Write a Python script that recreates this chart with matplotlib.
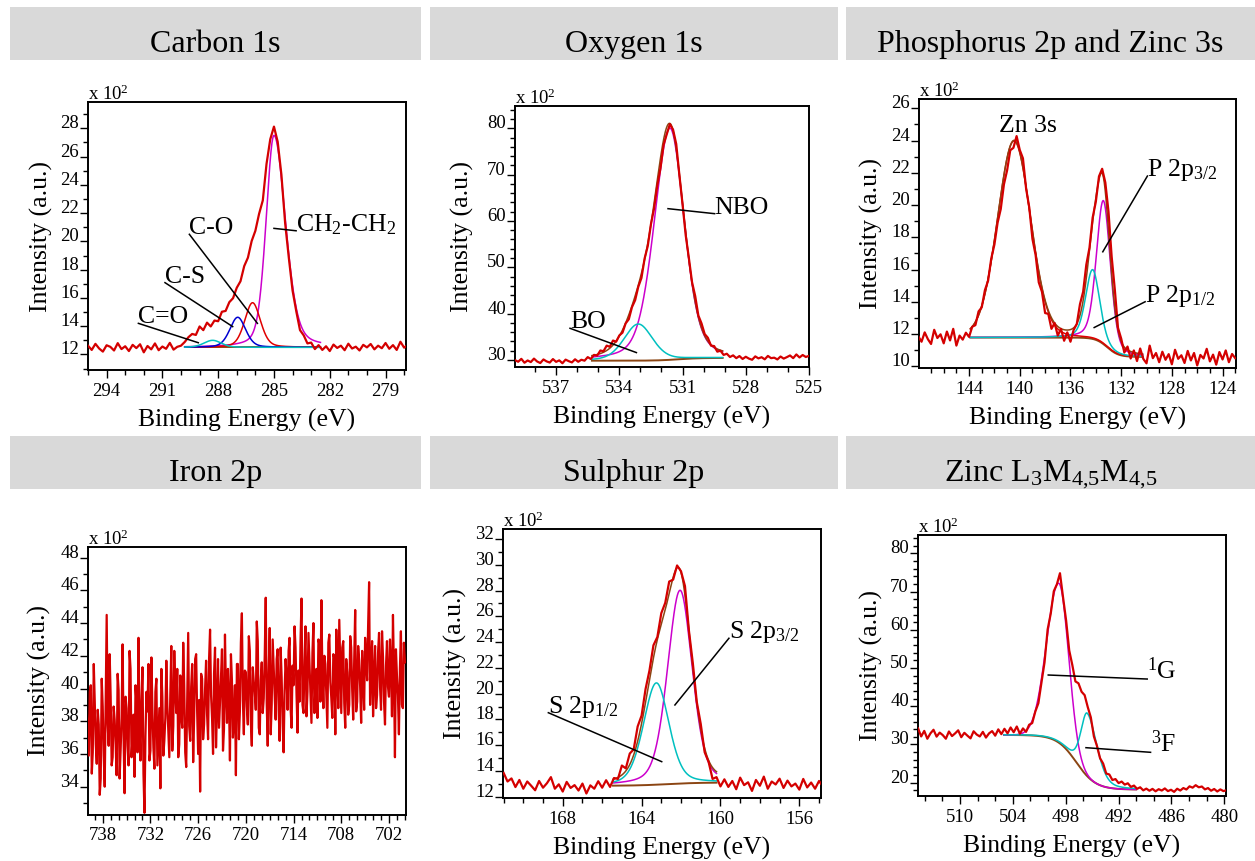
import numpy as np
import matplotlib
matplotlib.use("Agg")
import matplotlib.pyplot as plt
from matplotlib.patches import Rectangle
from matplotlib.ticker import MultipleLocator, FormatStrFormatter
from matplotlib.transforms import ScaledTranslation

plt.rcParams["font.family"] = ["Liberation Serif", "DejaVu Serif"]
plt.rcParams["mathtext.fontset"] = "custom"
plt.rcParams["mathtext.rm"] = "Liberation Serif"
plt.rcParams["mathtext.it"] = "Liberation Serif:italic"
plt.rcParams["mathtext.bf"] = "Liberation Serif:bold"

SCALE = 100.0  # intensities are shown in units of 10^2 counts

# ---------------- Carbon 1s ----------------
c1s_be = np.linspace(295.0, 277.8, 87)
c1s_counts = [
    1262, 1232, 1275, 1242, 1220, 1265, 1254, 1228, 1280, 1238,
    1258, 1224, 1268, 1245, 1272, 1215, 1260, 1236, 1278, 1230,
    1256, 1240, 1282, 1234, 1254, 1262, 1288, 1322, 1345, 1338,
    1398, 1372, 1425, 1398, 1440, 1435, 1502, 1508, 1570, 1598,
    1672, 1718, 1825, 1885, 2002, 2075, 2195, 2290, 2548, 2722,
    2812, 2705, 2472, 2130, 1882, 1652, 1505, 1372, 1335, 1278,
    1284, 1238, 1266, 1232, 1258, 1224, 1270, 1246, 1262, 1230,
    1276, 1242, 1255, 1228, 1268, 1250, 1274, 1236, 1262, 1244,
    1281, 1240, 1266, 1232, 1290, 1248, 1268]
c1s_bg = [1250, 1250, 286.0, 1.0]          # high-BE level, low-BE level, centre, slope
c1s_fit_range = [289.8, 282.5]
c1s_centers = [285.0, 286.15, 286.95, 288.3]
c1s_heights = [1500, 316, 213, 50]
c1s_fwhm_hi = [1.0, 1.0, 1.0, 1.1]
c1s_fwhm_lo = [1.45, 1.0, 1.0, 1.1]
c1s_mix = [0.3, 0.3, 0.3, 0.3]

# ---------------- Oxygen 1s ----------------
o1s_be = np.linspace(538.95, 525.0, 94)
o1s_counts = [
    2998, 2962, 3025, 2941, 2990, 2955, 3030, 2968, 2935, 3012,
    2970, 2945, 3020, 2960, 2992, 2930, 3008, 2975, 2948, 3015,
    2962, 3005, 2985, 3062, 3022, 3110, 3095, 3205, 3190, 3310,
    3285, 3420, 3395, 3530, 3590, 3790, 3880, 4140, 4290, 4580,
    4770, 5190, 5460, 5930, 6270, 6760, 7130, 7640, 7870, 8090,
    7970, 7660, 6990, 6360, 5690, 5200, 4680, 4380, 3960, 3790,
    3560, 3480, 3310, 3300, 3180, 3200, 3110, 3135, 3065, 3100,
    3040, 3085, 3022, 3070, 3030, 3005, 3078, 3035, 3060, 3015,
    3088, 3040, 3050, 3012, 3075, 3030, 3062, 3098, 3040, 3120,
    3055, 3108, 3065, 3090]
o1s_bg = [2985, 3045, 531.2, 0.5]
o1s_fit_range = [535.3, 529.1]
o1s_centers = [531.6, 533.1]
o1s_heights = [5000, 790]
o1s_fwhm_hi = [1.75, 1.6]
o1s_fwhm_lo = [1.6, 1.6]
o1s_mix = [0.3, 0.3]

# ---------------- Phosphorus 2p / Zinc 3s ----------------
p2p_be = np.linspace(148.0, 123.0, 101)
p2p_counts = [
    1185, 1152, 1210, 1168, 1138, 1226, 1175, 1198, 1142, 1215,
    1160, 1232, 1128, 1190, 1165, 1208, 1182, 1245, 1255, 1340,
    1365, 1472, 1530, 1668, 1755, 1890, 1975, 2128, 2215, 2340,
    2355, 2428, 2342, 2290, 2102, 1985, 1790, 1690, 1520, 1462,
    1330, 1325, 1232, 1268, 1190, 1232, 1158, 1210, 1152, 1225,
    1262, 1385, 1462, 1630, 1735, 1922, 2020, 2178, 2225, 2140,
    1960, 1680, 1475, 1238, 1172, 1085, 1122, 1048, 1098, 1032,
    1110, 1045, 1018, 1128, 1050, 1082, 1025, 1090, 1040, 1075,
    1012, 1102, 1046, 1068, 1020, 1095, 1036, 1082, 1005, 1070,
    1048, 1108, 1030, 1072, 1010, 1088, 1042, 1098, 1025, 1076,
    1050]
p2p_bg = [1178, 1058, 133.1, 0.45]
p2p_fit_range = [143.9, 130.3]
p2p_centers = [140.45, 133.4, 134.25]
p2p_heights = [1220, 890, 430]
p2p_fwhm_hi = [3.07, 1.3, 1.3]
p2p_fwhm_lo = [3.07, 1.3, 1.3]
p2p_mix = [0.1, 0.3, 0.3]

# ---------------- Iron 2p ----------------
# counts on the 0.25 eV grid (740.00 ... 700.00)
fe2p_counts_grid = [
    3860, 3590, 4020, 3610, 3920, 3540, 3780, 3450, 3890, 3400,
    4450, 3650, 3950, 3580, 3810, 3470, 3990, 3620, 4270, 3360,
    3880, 3530, 4120, 3700, 3460, 3910, 4310, 3560, 4130, 3240,
    3980, 4150, 3620, 3870, 3510, 4060, 3700, 3390, 3950, 3680,
    4170, 3740, 3960, 3620, 4230, 3850, 3580, 4080, 3760, 4020,
    3520, 4340, 3680, 4150, 3830, 4210, 3600, 3370, 4060, 3780,
    4170, 3690, 4360, 3820, 4090, 3640, 4180, 3910, 4240, 3750,
    3980, 4120, 3560, 4050, 3800, 3470, 4150, 3860, 4460, 3720,
    4100, 3780, 4230, 3650, 4040, 3870, 4290, 3720, 4160, 3940,
    4555, 3650, 4370, 3900, 4120, 3810, 4240, 3680, 4070, 3610,
    4180, 3870, 4310, 3760, 4020, 4250, 3730, 3920, 4550, 3850,
    4380, 3980, 4160, 3790, 4400, 4010, 3820, 4270, 4540, 3880,
    4150, 3760, 4330, 3940, 4210, 3720, 4080, 4420, 3850, 4290,
    3760, 4100, 3900, 4250, 3810, 4480, 3920, 4170, 3790, 4060,
    4310, 4050, 4650, 4120, 3830, 4260, 3960, 4340, 3870, 4190,
    3780, 4290, 3950, 4140, 4450, 3580, 4080, 3720, 4350, 3880,
    4160]
# counts at the intermediate channels (739.875 ... 700.125)
fe2p_counts_mid = [
    3720, 3980, 3480, 4150, 3660, 3870, 3350, 4060, 3590, 3940,
    3780, 4210, 3530, 3890, 3660, 4090, 3450, 3820, 3700, 3950,
    3650, 4230, 3580, 3840, 4020, 3610, 3770, 3930, 3480, 3710,
    3860, 3560, 4190, 3640, 3980, 3530, 3880, 4120, 3590, 3820,
    3900, 3580, 4260, 3770, 3990, 4120, 3660, 3840, 4280, 3610,
    3950, 3770, 4010, 3550, 4180, 3860, 3930, 4090, 3690, 4000,
    3840, 4180, 3960, 3600, 4250, 3880, 3760, 4070, 3620, 4330,
    3790, 3940, 4210, 3700, 4020, 4150, 3690, 4280, 3930, 4110,
    3890, 4320, 3800, 4130, 3980, 4410, 3760, 4050, 3850, 4200,
    3910, 4100, 3720, 4300, 3960, 4180, 3870, 4250, 3790, 3990,
    4060, 4230, 3880, 4140, 4380, 3960, 4110, 4290, 3900, 4170,
    3830, 4340, 3990, 4220, 3850, 4120, 4300, 3920, 4080, 4200,
    3950, 4280, 4040, 3820, 4190, 4360, 3880, 4130, 4250, 3910,
    4180, 3840, 4320, 3990, 4170, 3860, 4260, 4010, 4230, 3870,
    4170, 4380, 3900, 4290, 4070, 3880, 4220, 4010, 4350, 3920,
    4140, 4010, 4300, 3830, 4100, 4240, 3960, 4120, 3900, 4280]
fe2p_be = np.linspace(740.0, 700.0, 321)

# ---------------- Sulphur 2p ----------------
s2p_be = np.linspace(171.0, 154.8, 82)
s2p_counts = [
    1385, 1318, 1342, 1275, 1330, 1262, 1318, 1285, 1250, 1322,
    1270, 1305, 1352, 1262, 1296, 1240, 1315, 1268, 1290, 1248,
    1302, 1225, 1288, 1262, 1320, 1270, 1328, 1276, 1345, 1338,
    1442, 1420, 1535, 1568, 1745, 1830, 2035, 2180, 2375, 2440,
    2625, 2705, 2870, 2885, 2995, 2950, 2835, 2490, 2235, 1935,
    1765, 1545, 1470, 1338, 1352, 1280, 1335, 1276, 1322, 1258,
    1348, 1290, 1312, 1245, 1330, 1285, 1356, 1262, 1318, 1295,
    1340, 1268, 1325, 1280, 1302, 1255, 1338, 1272, 1310, 1262,
    1322, 1280]
s2p_bg = [1285, 1310, 162.7, 0.8]
s2p_fit_range = [165.45, 160.2]
s2p_centers = [162.05, 163.25]
s2p_heights = [1500, 790]
s2p_fwhm_hi = [1.5, 1.55]
s2p_fwhm_lo = [1.45, 1.5]
s2p_mix = [0.3, 0.3]

# ---------------- Zinc LMM Auger ----------------
zn_be = np.linspace(514.75, 479.75, 101)
zn_counts = [
    3420, 3210, 3355, 3150, 3290, 3385, 3205, 3310, 3245, 3150,
    3340, 3220, 3290, 3370, 3190, 3305, 3230, 3160, 3345, 3260,
    3210, 3330, 3180, 3290, 3350, 3230, 3395, 3270, 3410, 3290,
    3445, 3320, 3470, 3280, 3420, 3330, 3515, 3560, 3860, 4080,
    4620, 5150, 6010, 6420, 7010, 7190, 7480, 6850, 6240, 5460,
    5080, 4650, 4600, 4380, 4290, 3980, 3710, 3210, 2960, 2640,
    2500, 2240, 2215, 2070, 2095, 1990, 2030, 1950, 1985, 1890,
    1925, 1840, 1880, 1800, 1845, 1790, 1838, 1775, 1830, 1795,
    1850, 1780, 1815, 1760, 1842, 1795, 1860, 1822, 1905, 1870,
    1935, 1880, 1900, 1825, 1860, 1790, 1835, 1770, 1825, 1780,
    1805]
zn_bg = [3250, 1820, 496.8, 1.1]
zn_fit_range = [505.0, 490.0]
zn_centers = [498.75, 495.55]
zn_heights = [4170, 1650]
zn_fwhm_hi = [3.3, 1.7]
zn_fwhm_lo = [2.55, 2.6]
zn_mix = [0.0, 0.3]

titles = ["Carbon 1s", "Oxygen 1s", "Phosphorus 2p and Zinc 3s",
          "Iron 2p", "Sulphur 2p",
          r"Zinc L$_{\mathregular{3}}$M$_{\mathregular{4{,}5}}$M$_{\mathregular{4{,}5}}$"]

RAW = "#d40000"
BROWN = "#8b4513"
MAGENTA = "#cc00cc"
CYAN = "#00c0c0"
BLUE = "#0000d0"
RED = "#e00000"

W, H, DPI = 1255, 861, 100
fig = plt.figure(figsize=(W / DPI, H / DPI), dpi=DPI)
fig.patch.set_facecolor("white")


def gl_line(x, center, height, fwhm_hi, fwhm_lo, mix):
    """Gaussian-Lorentzian sum line shape, optionally asymmetric."""
    w = np.where(x >= center, fwhm_hi, fwhm_lo)
    u = (x - center) / w
    return height * ((1 - mix) * np.exp(-4 * np.log(2) * u ** 2) + mix / (1 + 4 * u ** 2))


def step_bg(x, hi, lo, center, slope):
    return lo + (hi - lo) / (1 + np.exp(-(x - center) / slope))


def title_bar(x0, x1, y0, y1, text):
    fig.add_artist(Rectangle((x0 / W, 1 - y1 / H), (x1 - x0) / W, (y1 - y0) / H,
                             transform=fig.transFigure, facecolor="#d9d9d9",
                             edgecolor="none", zorder=0))
    fig.text((x0 + x1) / 2 / W, 1 - (y1 - 8) / H, text, ha="center",
             va="baseline", fontsize=23)


def make_axes(box, xlim, ylim, xstep, xminor, ystep, yminor, ylab_off, xlabel=True):
    l, t, r, b = box
    ax = fig.add_axes([l / W, 1 - b / H, (r - l) / W, (b - t) / H])
    ax.set_xlim(*xlim)
    ax.set_ylim(*ylim)
    ax.xaxis.set_major_locator(MultipleLocator(xstep))
    ax.xaxis.set_minor_locator(MultipleLocator(xminor))
    ax.yaxis.set_major_locator(MultipleLocator(ystep))
    ax.yaxis.set_minor_locator(MultipleLocator(yminor))
    ax.xaxis.set_major_formatter(FormatStrFormatter("%d"))
    ax.yaxis.set_major_formatter(FormatStrFormatter("%d"))
    ax.tick_params(which="both", direction="out", top=False, right=False,
                   color="black", width=1.0, labelsize=13.5)
    ax.tick_params(which="major", length=6)
    ax.tick_params(which="minor", length=3.5)
    ax.tick_params(axis="x", pad=3)
    ax.tick_params(axis="y", pad=0.5)
    for s in ax.spines.values():
        s.set_linewidth(1.4)
    for tk in ax.yaxis.get_major_ticks():
        tk.label1.set_verticalalignment("baseline")
    ax.set_ylabel("Intensity (a.u.)", fontsize=18.5, va="center")
    ax.yaxis.set_label_coords(-ylab_off / (r - l), 0.5)
    if xlabel:
        ax.set_xlabel("Binding Energy (eV)", fontsize=18.5, va="top")
        ax.xaxis.set_label_coords(0.5, -39 / (b - t))
    ax.text(0, 1, r"x 10$^{\mathregular{2}}$",
            transform=ax.transAxes + ScaledTranslation(0, 2 / DPI, fig.dpi_scale_trans),
            ha="left", va="baseline", fontsize=13.5)
    return ax


def draw_fit(ax, fit_range, bg_par, centers, heights, fw_hi, fw_lo, mix, colors, envelope):
    xf = np.linspace(fit_range[0], fit_range[1], 700)
    bg = step_bg(xf, *bg_par)
    total = bg.copy()
    for c, h, wh, wl, m, col in zip(centers, heights, fw_hi, fw_lo, mix, colors):
        comp = gl_line(xf, c, h, wh, wl, m)
        total = total + comp
        ax.plot(xf, (bg + comp) / SCALE, color=col, lw=1.1, zorder=3)
    ax.plot(xf, bg / SCALE, color=BROWN, lw=1.4, zorder=2)
    if envelope:
        ax.plot(xf, total / SCALE, color=BROWN, lw=1.1, zorder=3)


def draw_raw(ax, be, counts, lw=1.6):
    ax.plot(be, np.asarray(counts) / SCALE, color=RAW, lw=lw, zorder=4)


def label(ax, text, anchor, start=None, end=None, ha="left"):
    if start is not None:
        ax.plot([start[0], end[0]], [start[1], end[1]], color="black", lw=1.1, zorder=5)
    ax.text(anchor[0], anchor[1], text, ha=ha, va="baseline", fontsize=18.5, zorder=6)


# title bars
bar_x = [(10, 421), (430, 838), (846, 1255)]
for i, (x0, x1) in enumerate(bar_x):
    title_bar(x0, x1, 7, 60, titles[i])
    title_bar(x0, x1, 436, 489, titles[i + 3])

# --- Carbon 1s
ax = make_axes((88, 102, 406, 370), (295.0, 277.9), (10.9, 29.86), 3, 1, 2, 1, 47)
draw_fit(ax, c1s_fit_range, c1s_bg, c1s_centers, c1s_heights, c1s_fwhm_hi,
         c1s_fwhm_lo, c1s_mix, [MAGENTA, RED, BLUE, CYAN], envelope=False)
draw_raw(ax, c1s_be, c1s_counts)
label(ax, "C=O", (292.29, 14.2), (292.29, 14.2), (289.07, 12.83))
label(ax, "C-S", (290.86, 17.08), (290.86, 17.08), (287.22, 13.97))
label(ax, "C-O", (289.55, 20.5), (289.55, 20.5), (285.89, 14.2))
label(ax, r"CH$_{\mathregular{2}}$-CH$_{\mathregular{2}}$", (283.81, 20.7),
      (285.0, 20.92), (283.81, 20.75))

# --- Oxygen 1s
ax = make_axes((515, 106, 809, 367), (538.95, 525.0), (28.49, 84.8), 3, 1, 10, 2, 52.5)
draw_fit(ax, o1s_fit_range, o1s_bg, o1s_centers, o1s_heights, o1s_fwhm_hi,
         o1s_fwhm_lo, o1s_mix, [MAGENTA, CYAN], envelope=True)
draw_raw(ax, o1s_be, o1s_counts)
label(ax, "NBO", (529.48, 61.6), (531.69, 62.65), (529.48, 61.57))
label(ax, "BO", (536.34, 36.84), (536.34, 36.84), (533.19, 31.6))

# --- Phosphorus 2p and Zinc 3s
ax = make_axes((919, 99, 1236, 368), (147.95, 122.94), (9.89, 26.58), 4, 1, 2, 1, 47.5)
draw_fit(ax, p2p_fit_range, p2p_bg, p2p_centers, p2p_heights, p2p_fwhm_hi,
         p2p_fwhm_lo, p2p_mix, [RED, MAGENTA, CYAN], envelope=True)
draw_raw(ax, p2p_be, p2p_counts)
label(ax, "Zn 3s", (139.37, 24.55), ha="center")
label(ax, r"P 2p$_{\mathregular{3/2}}$", (129.93, 21.8), (129.93, 21.8), (133.45, 17.1))
label(ax, r"P 2p$_{\mathregular{1/2}}$", (130.11, 14.0), (130.11, 14.0), (134.13, 12.4))

# --- Iron 2p: merge the on-grid and intermediate channels in energy order
fe2p_counts = np.empty(fe2p_be.size)
fe2p_counts[0::2] = fe2p_counts_grid
fe2p_counts[1::2] = fe2p_counts_mid
ax = make_axes((88, 547, 406, 815), (739.85, 699.86), (32.27, 48.65), 6, 1, 2, 1, 48.5,
               xlabel=False)
draw_raw(ax, fe2p_be, fe2p_counts, lw=1.6)

# --- Sulphur 2p
ax = make_axes((503, 529, 821, 798), (171.03, 154.9), (11.9, 32.78), 4, 1, 2, 1, 48)
draw_fit(ax, s2p_fit_range, s2p_bg, s2p_centers, s2p_heights, s2p_fwhm_hi,
         s2p_fwhm_lo, s2p_mix, [MAGENTA, CYAN], envelope=True)
draw_raw(ax, s2p_be, s2p_counts)
label(ax, r"S 2p$_{\mathregular{3/2}}$", (159.57, 24.3), (159.57, 24.3), (162.31, 19.12))
label(ax, r"S 2p$_{\mathregular{1/2}}$", (168.73, 18.52), (168.73, 18.52), (162.98, 14.72))

# --- Zinc L3M45M45
ax = make_axes((918, 535, 1226, 796), (514.76, 479.81), (16.52, 84.8), 6, 2, 10, 2, 46.5)
draw_fit(ax, zn_fit_range, zn_bg, zn_centers, zn_heights, zn_fwhm_hi,
         zn_fwhm_lo, zn_mix, [MAGENTA, CYAN], envelope=False)
draw_raw(ax, zn_be, zn_counts)
label(ax, r"$^{\mathregular{1}}$G", (488.75, 47.2), (499.98, 48.17), (488.75, 47.12))
label(ax, r"$^{\mathregular{3}}$F", (488.37, 28.0), (495.7, 29.16), (488.37, 27.95))

fig.savefig("out.png", dpi=DPI)
